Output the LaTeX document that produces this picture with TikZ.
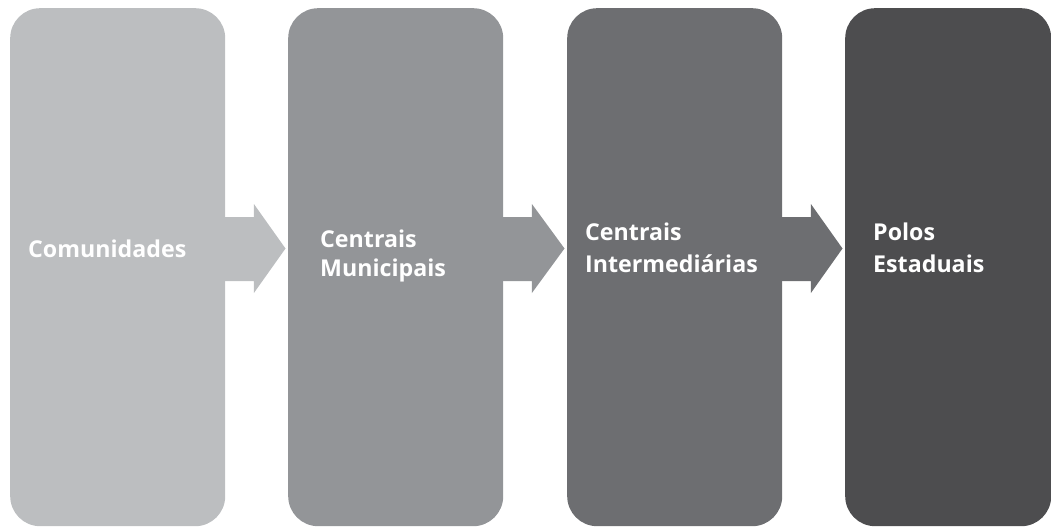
\documentclass[tikz,border=0pt]{standalone}
\usepackage{fontspec}
\setmainfont{Open Sans}
\usetikzlibrary{calc}
\definecolor{gA}{HTML}{BCBEC0}
\definecolor{gB}{HTML}{939598}
\definecolor{gC}{HTML}{6D6E71}
\definecolor{gD}{HTML}{4D4D4F}
\tikzset{
  stagebox/.style={rectangle, rounded corners=30pt, minimum width=215pt, minimum height=518pt, inner sep=0pt, anchor=north west},
  stagetext/.style={anchor=base west, inner sep=0pt, text=white, font=\bfseries\fontsize{23.2}{28}\selectfont},
}
\begin{document}
\begin{tikzpicture}[x=1pt,y=-1pt]
\useasboundingbox (0,0) rectangle (1051,527);
\node[stagebox, fill=gA] (b1) at (10,8) {};
\node[stagebox, fill=gB] (b2) at (288,8) {};
\node[stagebox, fill=gC] (b3) at (567,8) {};
\node[stagebox, fill=gD, minimum width=206pt] (b4) at (845,8) {};
% arrows
\foreach \a/\b/\c in {b1/b2/gA, b2/b3/gB, b3/b4/gC}{
  \fill[\c] let \p1=(\a.east), \p2=(\b.west) in
       (\x1-6pt,-217pt)
    -- (\x1+28.5pt,-217pt)
    -- (\x1+28.5pt,-204pt)
    -- (\x2-2.5pt,-248.5pt)
    -- (\x1+28.5pt,-293pt)
    -- (\x1+28.5pt,-281pt)
    -- (\x1-6pt,-281pt) -- cycle;
}
\node[stagetext] (t1) at (28,257) {Comunidades};
\node[stagetext] (t2a) at (320,247) {Centrais};
\node[stagetext] (t2b) at (320,276) {Municipais};
\node[stagetext] (t3a) at (585,240) {Centrais};
\node[stagetext] (t3b) at (585,272) {Intermediárias};
\node[stagetext] (t4a) at (873,240) {Polos};
\node[stagetext] (t4b) at (873,272) {Estaduais};
\end{tikzpicture}
\end{document}
